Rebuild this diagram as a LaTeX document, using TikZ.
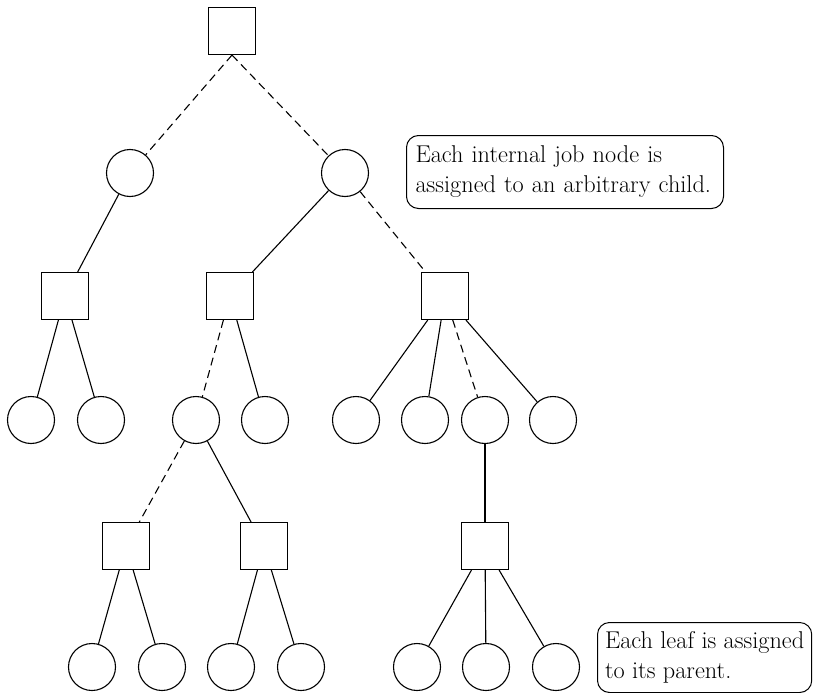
\documentclass[tikz,border=0pt]{standalone}
\usepackage{tikz}
\usetikzlibrary{positioning}

\begin{document}
\begin{tikzpicture}[
  x=1pt, y=-1pt,
  job/.style={draw, line width=1.1pt, minimum size=47pt, inner sep=0pt},
  task/.style={draw, circle, line width=1.1pt, minimum size=47pt, inner sep=0pt},
  link/.style={line width=1.1pt},
  pick/.style={line width=1.1pt, dash pattern=on 8pt off 5pt},
  note/.style={draw, rounded corners=12pt, line width=1pt, align=left, anchor=north west, inner xsep=9pt, font=\fontsize{24.3}{30}\selectfont},
]
\useasboundingbox (0,0) rectangle (814,693);
\node[job] (root) at (232,31) {};
\node[task] (a1) at (130,173) {};
\node[task] (a2) at (345,173) {};
\node[job] (b1) at (65,296) {};
\node[job] (b2) at (230,296) {};
\node[job] (b3) at (445,296) {};
\node[task] (c1) at (31,420) {};
\node[task] (c2) at (101,420) {};
\node[task] (c3) at (196,420) {};
\node[task] (c4) at (265,420) {};
\node[task] (c5) at (356,420) {};
\node[task] (c6) at (425,420) {};
\node[task] (c7) at (485,420) {};
\node[task] (c8) at (553,420) {};
\node[job] (d1) at (126,546) {};
\node[job] (d2) at (264,546) {};
\node[job] (d3) at (485,546) {};
\node[task] (e1) at (92,667) {};
\node[task] (e2) at (162,667) {};
\node[task] (e3) at (231,667) {};
\node[task] (e4) at (301,667) {};
\node[task] (e5) at (417,667) {};
\node[task] (e6) at (486,667) {};
\node[task] (e7) at (556,667) {};
% assignment edges
\draw[pick] (root.south) -- (a1);
\draw[pick] (root.south) -- (a2);
\draw[pick] (a2) -- (b3);
\draw[pick] (b2) -- (c3);
\draw[pick] (b3) -- (c7);
\draw[pick] (c3) -- (d1);
% other edges
\draw[link] (a1) -- (b1);
\draw[link] (a2) -- (b2);
\draw[link] (b1) -- (c1);
\draw[link] (b1) -- (c2);
\draw[link] (b2) -- (c4);
\draw[link] (b3) -- (c5);
\draw[link] (b3) -- (c6);
\draw[link] (b3) -- (c8);
\draw[link] (c3) -- (d2);
\draw[link] (c7) -- (d3);
\draw[link] (d1) -- (e1);
\draw[link] (d1) -- (e2);
\draw[link] (d2) -- (e3);
\draw[link] (d2) -- (e4);
\draw[link] (d3) -- (e5);
\draw[link] (d3) -- (e6);
\draw[link] (d3) -- (e7);
\node[note, text width=299pt, minimum height=73pt] (inner) at (406,135) {Each internal job node is\\assigned to an arbitrary child.};
\node[note, inner xsep=7.5pt, minimum height=70pt] (leaf) at (597,622) {Each leaf is assigned\\to its parent.};
\end{tikzpicture}
\end{document}
